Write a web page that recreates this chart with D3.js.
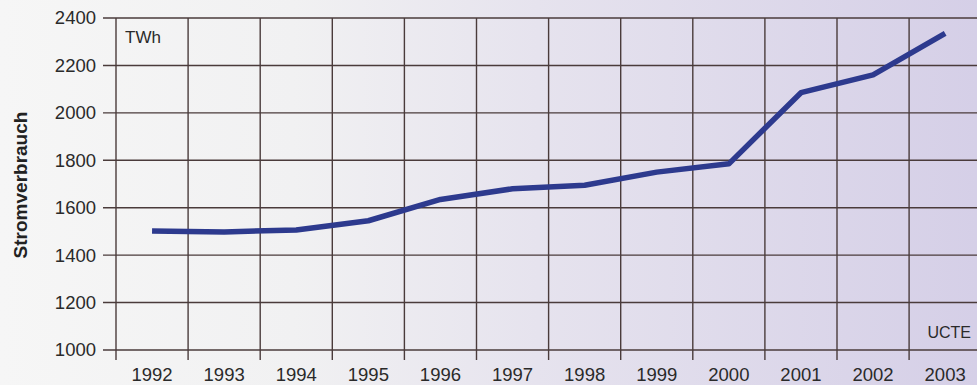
<!DOCTYPE html>
<html><head><meta charset="utf-8">
<script src="https://cdn.jsdelivr.net/npm/d3@7"></script>
<style>html,body{margin:0;padding:0;background:#f3f3f3;}svg{display:block;}</style>
</head><body><div id="chart"></div>
<script>
const years = [1992,1993,1994,1995,1996,1997,1998,1999,2000,2001,2002,2003];
const consumption = [1502,1498,1506,1545,1635,1680,1695,1750,1785,2085,2160,2335];
const yTicks = [1000,1200,1400,1600,1800,2000,2200,2400];
const unitLabel = "TWh";
const sourceLabel = "UCTE";
const yTitle = "Stromverbrauch";

const W = 977, H = 385;
const svg = d3.select("#chart").append("svg").attr("width", W).attr("height", H);

const defs = svg.append("defs");
const grad = defs.append("linearGradient").attr("id","bg").attr("x1","0").attr("x2","1").attr("y1","0").attr("y2","0");
grad.append("stop").attr("offset","0").attr("stop-color","#f6f6f6");
grad.append("stop").attr("offset","0.3").attr("stop-color","#f1f1f2");
grad.append("stop").attr("offset","0.55").attr("stop-color","#e6e3ee");
grad.append("stop").attr("offset","1").attr("stop-color","#d5cfe7");
svg.append("rect").attr("width",W).attr("height",H).attr("fill","url(#bg)");

const x = d3.scaleLinear().domain([1992, 2004]).range([116, 116 + 72.1*12]);
const y = d3.scaleLinear().domain([1000, 2400]).range([350, 18]);

const gridColor = "#4a3b3b";

// horizontal grid lines
svg.append("g").selectAll("line").data(yTicks).join("line")
  .attr("x1", 103).attr("x2", W + 5)
  .attr("y1", d => y(d)).attr("y2", d => y(d))
  .attr("stroke", gridColor).attr("stroke-width", 1.4);

// vertical grid lines
const bounds = d3.range(1992, 2004);
svg.append("g").selectAll("line").data(bounds).join("line")
  .attr("x1", d => x(d)).attr("x2", d => x(d))
  .attr("y1", y(2400)).attr("y2", 360)
  .attr("stroke", gridColor).attr("stroke-width", 1.4);

// y tick labels
svg.append("g").selectAll("text").data(yTicks).join("text")
  .attr("x", 96).attr("y", d => y(d)).attr("dy", "0.35em")
  .attr("text-anchor", "end")
  .attr("font-family", "Liberation Sans, Arial, sans-serif")
  .attr("font-size", 18.5).attr("fill", "#2a2a2a")
  .text(d => d);

// x tick labels
svg.append("g").selectAll("text").data(years).join("text")
  .attr("x", d => x(d + 0.5)).attr("y", 381)
  .attr("text-anchor", "middle")
  .attr("font-family", "Liberation Sans, Arial, sans-serif")
  .attr("font-size", 18.5).attr("fill", "#2a2a2a")
  .text(d => d);

// y title
svg.append("text")
  .attr("transform", "translate(27,185) rotate(-90)")
  .attr("text-anchor", "middle")
  .attr("font-family", "Liberation Sans, Arial, sans-serif")
  .attr("font-weight", "bold")
  .attr("font-size", 19).attr("fill", "#222")
  .text(yTitle);

// unit label
svg.append("text").attr("x", 125).attr("y", 43)
  .attr("font-family", "Liberation Sans Narrow, Arial Narrow, sans-serif")
  .attr("font-size", 17).attr("fill", "#2a2a2a").text(unitLabel);

// source label
svg.append("text").attr("x", 971).attr("y", 338).attr("text-anchor","end")
  .attr("font-family", "Liberation Sans Narrow, Arial Narrow, sans-serif")
  .attr("font-size", 16).attr("fill", "#2a2a2a").text(sourceLabel);

// data line
const line = d3.line().x((d,i) => x(years[i] + 0.5)).y(d => y(d));
svg.append("path").datum(consumption)
  .attr("d", line).attr("fill", "none")
  .attr("stroke", "#2d3a8e").attr("stroke-width", 5.5)
  .attr("stroke-linejoin", "round").attr("stroke-linecap", "butt");
</script></body></html>
